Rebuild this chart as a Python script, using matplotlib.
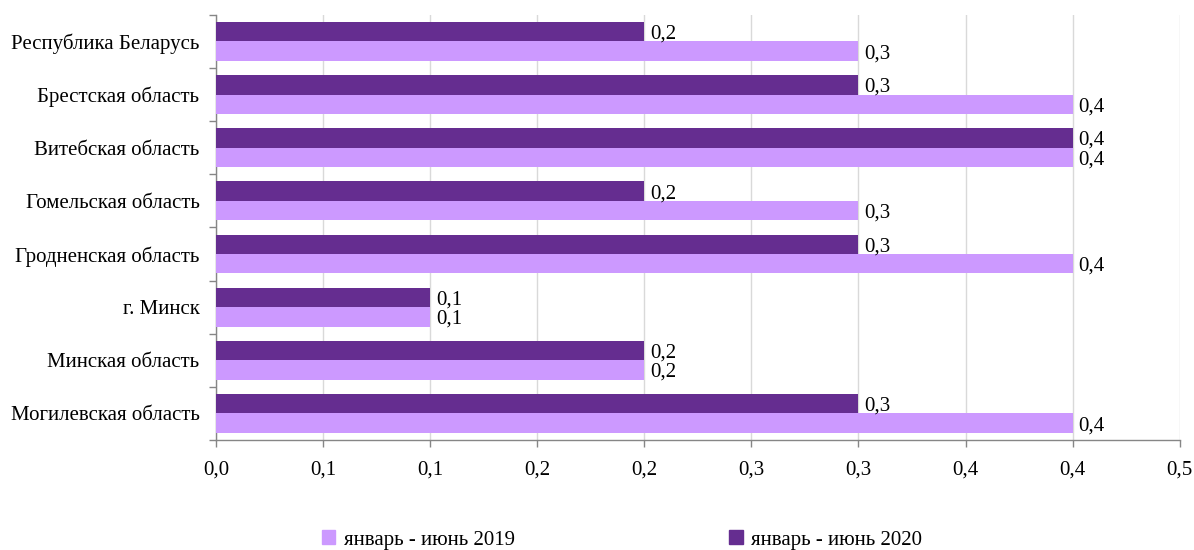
import numpy as np
import matplotlib
matplotlib.use("Agg")
import matplotlib.pyplot as plt
from matplotlib.patches import Patch

plt.rcParams["font.family"] = ["Liberation Serif", "DejaVu Serif"]

regions = [
    "Республика Беларусь",
    "Брестская область",
    "Витебская область",
    "Гомельская область",
    "Гродненская область",
    "г. Минск",
    "Минская область",
    "Могилевская область",
]
values_2019 = [0.3, 0.4, 0.4, 0.3, 0.4, 0.1, 0.2, 0.4]
values_2020 = [0.2, 0.3, 0.4, 0.2, 0.3, 0.1, 0.2, 0.3]
series_names = ["январь - июнь 2019", "январь - июнь 2020"]
x_ticks = [0.0, 0.05, 0.1, 0.15, 0.2, 0.25, 0.3, 0.35, 0.4, 0.45]
x_tick_labels = ["0,0", "0,1", "0,1", "0,2", "0,2", "0,3", "0,3", "0,4", "0,4", "0,5"]

light = "#CC99FF"
dark = "#652D90"
fs = 15


def fmt(v):
    return f"{v:.1f}".replace(".", ",")


fig = plt.figure(figsize=(11.94, 5.5), dpi=100)
ax = fig.add_axes([0.181, 0.2, 0.807, 0.773])

y = np.arange(len(regions))
h = 0.365
bars20 = ax.barh(y - h / 2, values_2020, height=h, color=dark, zorder=3)
bars19 = ax.barh(y + h / 2, values_2019, height=h, color=light, zorder=3)

for bars, vals in [(bars20, values_2020), (bars19, values_2019)]:
    for b, v in zip(bars, vals):
        ax.text(b.get_width() + 0.0028, b.get_y() + b.get_height() / 2, fmt(v),
                va="center_baseline", ha="left", fontsize=fs, zorder=4)

ax.set_xlim(0, 0.45)
ax.set_ylim(len(regions) - 0.5, -0.5)
ax.set_xticks(x_ticks)
ax.set_xticklabels(x_tick_labels, fontsize=fs)
ax.set_yticks(y)
ax.set_yticklabels(regions, fontsize=fs, va="center_baseline")
ax.set_yticks(np.arange(-0.5, len(regions), 1), minor=True)

ax.tick_params(axis="y", which="major", length=0, pad=12)
ax.tick_params(axis="y", which="minor", length=5, color="#868686", width=1)
ax.tick_params(axis="x", which="major", length=5, color="#868686", width=1, pad=10)

ax.grid(axis="x", color="#D9D9D9", linewidth=1, zorder=0)
for s in ["top", "right"]:
    ax.spines[s].set_visible(False)
for s in ["left", "bottom"]:
    ax.spines[s].set_color("#868686")
    ax.spines[s].set_linewidth(1)

handles = [Patch(color=light), Patch(color=dark)]
fig.legend(handles, series_names, loc="center", bbox_to_anchor=(0.521, 0.018),
           ncol=2, frameon=False, fontsize=fs, handlelength=0.65, handleheight=0.65,
           handletextpad=0.4, columnspacing=10.3)

fig.savefig("out.png", dpi=100)
